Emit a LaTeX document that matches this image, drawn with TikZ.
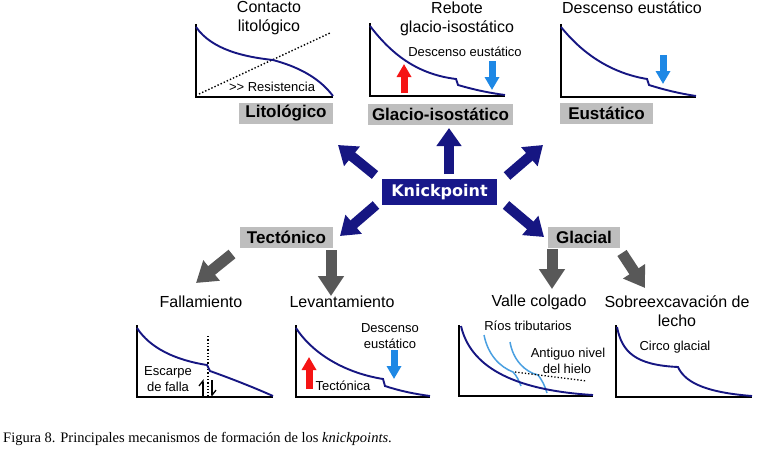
\documentclass[tikz,border=0pt]{standalone}
\usepackage{fontspec}
\setmainfont{Liberation Sans}
\newfontfamily\capfont{Liberation Serif}
\newfontfamily\kfont{DejaVu Sans}
\usetikzlibrary{arrows.meta}
\definecolor{navy}{RGB}{22,22,130}
\definecolor{kbox}{RGB}{24,24,138}
\definecolor{boxgray}{RGB}{190,190,190}
\definecolor{arrgray}{RGB}{88,88,88}
\definecolor{redarr}{RGB}{245,20,20}
\definecolor{bluearr}{RGB}{30,136,229}
\definecolor{ltblue}{RGB}{74,160,225}
\begin{document}
\begin{tikzpicture}[x=1pt,y=-1pt,
  lab/.style={font=\fontsize{16}{19}\selectfont, inner sep=0pt, align=center},
  small/.style={font=\fontsize{13}{16}\selectfont, inner sep=0pt, align=center},
  gbox/.style={fill=boxgray, font=\fontsize{17}{17}\selectfont\bfseries, inner sep=0pt, minimum height=21pt},
  axes/.style={line width=1.4pt, black},
  curve/.style={line width=1.9pt, navy},
  bigarrow/.style={line width=10pt, navy, -{Triangle[length=18pt,width=24pt]}},
  grayarrow/.style={line width=11pt, arrgray, -{Triangle[length=20pt,width=25pt]}},
  uparrow/.style={line width=7pt, redarr, -{Triangle[length=13pt,width=14pt]}},
  downarrow/.style={line width=7pt, bluearr, -{Triangle[length=13pt,width=14pt]}}
]
\useasboundingbox (0,0) rectangle (759,452);
\fill[white] (0,0) rectangle (759,452);

% central node
\node[fill=kbox, text=white, font=\kfont\fontsize{16}{16}\selectfont\bfseries, minimum width=115pt, minimum height=26pt, inner sep=0pt] (K) at (439.5,192) {Knickpoint};

% gray category boxes
\node[gbox, minimum width=94pt] (lit) at (286,113.5) {Litológico};
\node[gbox, minimum width=145pt] (gla) at (440.5,114) {Glacio-isostático};
\node[gbox, minimum width=93pt] (eus) at (606.5,113) {Eustático};
\node[gbox, minimum width=93pt] (tec) at (286.5,237.5) {Tectónico};
\node[gbox, minimum width=72pt] (glc) at (584,237.5) {Glacial};

% blue block arrows
\coordinate (kUL0) at (375,175); \coordinate (kUL1) at (338,145);
\coordinate (kU0) at (449,174);  \coordinate (kU1) at (449,128);
\coordinate (kUR0) at (507,176); \coordinate (kUR1) at (543,145);
\coordinate (kDL0) at (376,205); \coordinate (kDL1) at (340,236);
\coordinate (kDR0) at (506,205); \coordinate (kDR1) at (544,237);
\draw[bigarrow] (kUL0) -- (kUL1);
\draw[bigarrow] (kU0) -- (kU1);
\draw[bigarrow] (kUR0) -- (kUR1);
\draw[bigarrow] (kDL0) -- (kDL1);
\draw[bigarrow] (kDR0) -- (kDR1);

% gray arrows
\coordinate (tF0) at (232,254); \coordinate (tF1) at (196,283);
\coordinate (tL0) at (331,250); \coordinate (tL1) at (331,296);
\coordinate (gV0) at (552,249); \coordinate (gV1) at (552,289);
\coordinate (gS0) at (622,253); \coordinate (gS1) at (645,288);
\draw[grayarrow] (tF0) -- (tF1);
\draw[grayarrow] (tL0) -- (tL1);
\draw[grayarrow] (gV0) -- (gV1);
\draw[grayarrow] (gS0) -- (gS1);

% top titles
\node[lab] (t1) at (269,18.5) {Contacto\\litológico};
\node[lab] (t2) at (457,18.5) {Rebote\\glacio-isostático};
\node[lab] (t3) at (632,8) {Descenso eustático};

% bottom titles
\node[lab] (b1) at (201,302) {Fallamiento};
\node[lab] (b2) at (342,302) {Levantamiento};
\node[lab] (b3) at (539,302) {Valle colgado};
\node[lab] (b4) at (677,311.5) {Sobreexcavación de\\lecho};

% ---- plot 1: litológico
\draw[axes] (196,24) -- (196,97) -- (333,97);
\draw[line width=1.4pt, dotted] (199,94) -- (330,33);
\draw[curve] (196,27) .. controls (212,50) and (245,57) .. (273,60)
  .. controls (295,66) and (318,76) .. (333,96);
\node[small] (res) at (272,87) {>{}> Resistencia};

% ---- plot 2: glacio-isostático
\draw[axes] (370,23) -- (370,96) -- (505,96);
\draw[curve] (370,26) .. controls (390,52) and (415,74) .. (456,79) -- (458,85)
  .. controls (475,90) and (490,93) .. (505,95);
\draw[uparrow] (404,93) -- (404,64);
\draw[downarrow] (492,61) -- (492,90);
\node[small] (de2) at (465,52) {Descenso eustático};

% ---- plot 3: eustático
\draw[axes] (561,24) -- (561,97) -- (696,97);
\draw[curve] (561,27) .. controls (578,48) and (605,72) .. (647,79) -- (649,85)
  .. controls (668,91) and (683,94) .. (696,96);
\draw[downarrow] (663,55) -- (663,84);

% ---- plot 4: fallamiento
\draw[axes] (137,325) -- (137,397) -- (273,397);
\draw[line width=1.3pt, dotted] (208,336) -- (208,397);
\draw[curve] (137,328) .. controls (150,348) and (175,360) .. (207,365) -- (210,371)
  .. controls (235,380) and (255,388) .. (273,396);
\node[small] (esc) at (168,379.5) {Escarpe\\de falla};
\draw[line width=1.3pt, -{Straight Barb[left, length=5pt, width=8pt]}] (203,397) -- (203,379);
\draw[line width=1.3pt, -{Straight Barb[left, length=5pt, width=8pt]}] (212,380) -- (212,397);

% ---- plot 5: levantamiento
\draw[axes] (296,325) -- (296,397) -- (430,397);
\draw[curve] (296,328) .. controls (310,350) and (340,372) .. (383,379) -- (385,386)
  .. controls (400,391) and (415,394) .. (430,396);
\draw[uparrow] (309,389) -- (309,357);
\draw[downarrow] (394,350) -- (394,379);
\node[small] (de5) at (390,336) {Descenso\\eustático};
\node[small] (tct) at (343,386) {Tectónica};

% ---- plot 6: valle colgado
\draw[axes] (459,325) -- (459,396) -- (593,396);
\draw[line width=1.5pt, ltblue] (484,335) .. controls (488,355) and (500,367) .. (513,372)
  .. controls (517,376) and (519,381) .. (521,386);
\draw[line width=1.5pt, ltblue] (510,342) .. controls (513,360) and (525,372) .. (538,375)
  .. controls (542,380) and (545,386) .. (547,393);
\draw[line width=1.3pt, dotted] (515,372) -- (587,381);
\draw[curve] (461,326) .. controls (470,365) and (510,390) .. (593,395);
\node[small] (rios) at (528,326) {Ríos tributarios};
\node[small] (ant) at (568,360.5) {Antiguo nivel\\\hspace*{-2pt}del hielo};

% ---- plot 7: sobreexcavación
\draw[axes] (616,325) -- (616,397) -- (752,397);
\draw[curve] (617,327) .. controls (622,352) and (635,365) .. (678,367)
  .. controls (684,380) and (700,392) .. (752,396);
\node[small] (cir) at (675,347) {Circo glacial};

% caption
\node[anchor=base west, inner sep=0pt, font=\capfont\fontsize{14.5}{16}\selectfont] (cap) at (3,442)
  {Figura 8. Principales mecanismos de formación de los \textit{knickpoints}.};
\end{tikzpicture}
\end{document}
